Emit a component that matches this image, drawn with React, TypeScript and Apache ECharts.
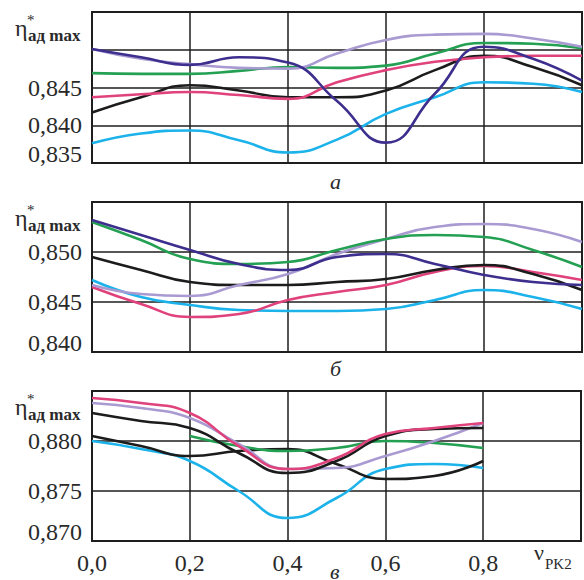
import React, { useEffect, useRef } from "react";
import * as echarts from "echarts";

// Relative speed of the second rotor row, ν_PK2
const xs = [0, 0.1, 0.2, 0.3, 0.4, 0.5, 0.6, 0.7, 0.8, 0.9, 1.0];

// Panel а
const navyA = [0.8501, 0.849, 0.848, 0.849, 0.8483, 0.8432, 0.8377, 0.8442, 0.8504, 0.8488, 0.8459];
const lavA = [0.8501, 0.8488, 0.8481, 0.8476, 0.8475, 0.8495, 0.8513, 0.852, 0.8521, 0.8515, 0.8504];
const greenA = [0.8469, 0.8468, 0.8468, 0.8472, 0.8477, 0.8476, 0.8479, 0.8495, 0.8509, 0.8508, 0.8502];
const pinkA = [0.8437, 0.8441, 0.8444, 0.844, 0.8435, 0.8457, 0.8473, 0.8484, 0.849, 0.8492, 0.8492];
const blackA = [0.8417, 0.8437, 0.8453, 0.8446, 0.8437, 0.8437, 0.8446, 0.8473, 0.8492, 0.8477, 0.8453];
const cyanA = [0.8376, 0.8389, 0.8393, 0.838, 0.8364, 0.8381, 0.8415, 0.8437, 0.8457, 0.8455, 0.8444];

// Panel б
const navyB = [0.8532, 0.8517, 0.8502, 0.8488, 0.8482, 0.8495, 0.8498, 0.8488, 0.8477, 0.847, 0.8467];
const greenB = [0.853, 0.8512, 0.8493, 0.8488, 0.849, 0.8502, 0.8513, 0.8517, 0.8515, 0.8502, 0.8485];
const blackB = [0.8495, 0.8482, 0.847, 0.8467, 0.8467, 0.847, 0.8473, 0.8482, 0.8487, 0.8478, 0.8462];
const lavB = [0.8467, 0.8458, 0.8456, 0.8467, 0.8478, 0.8498, 0.8513, 0.8525, 0.8528, 0.8523, 0.851];
const pinkB = [0.8465, 0.8448, 0.8435, 0.8438, 0.8452, 0.846, 0.8467, 0.848, 0.8486, 0.848, 0.8472];
const cyanB = [0.8472, 0.8455, 0.8447, 0.8442, 0.8441, 0.8441, 0.8443, 0.8452, 0.8462, 0.8455, 0.8443];

// Panel в (0 … 0,8)
const pinkC = [0.8843, 0.8838, 0.8828, 0.8795, 0.8772, 0.8783, 0.8807, 0.8813, 0.8818];
const lavC = [0.8838, 0.8833, 0.8823, 0.8797, 0.8772, 0.8773, 0.8785, 0.88, 0.8818];
const blackC1 = [0.8828, 0.882, 0.8813, 0.8788, 0.8768, 0.878, 0.8805, 0.8812, 0.8813];
const blackC2 = [0.8805, 0.8795, 0.8785, 0.879, 0.8792, 0.8777, 0.8762, 0.8765, 0.878];
const greenC = [null, null, 0.8805, 0.8795, 0.879, 0.8793, 0.88, 0.8798, 0.8793];
const cyanC = [0.88, 0.8792, 0.878, 0.875, 0.8723, 0.8743, 0.8772, 0.8777, 0.8773];

// Tick labels
const yTicksA = ["0,835", "0,840", "0,845"];
const yTicksB = ["0,840", "0,845", "0,850"];
const yTicksC = ["0,870", "0,875", "0,880"];
const xTicks = ["0,0", "0,2", "0,4", "0,6", "0,8"];
const panelLetters = ["а", "б", "в"];

const COLORS = {
  navy: "#3d2f8e",
  lav: "#a99ad2",
  green: "#23a052",
  pink: "#e0427c",
  black: "#1c1c1c",
  cyan: "#1cb2ea",
};

const SERIF = "'Liberation Serif', 'DejaVu Serif', serif";
const PANEL_TOPS = [12, 202, 391];
const PANEL_HEIGHTS = [151, 150, 150];

const fmt = (v: number) => v.toFixed(3).replace(".", ",");

function App() {
  const ref = useRef<HTMLDivElement>(null);

  useEffect(() => {
    if (!ref.current) return;
    const chart = echarts.init(ref.current, undefined, { renderer: "svg" });

    const pair = (ys: (number | null)[]) => ys.map((y, i) => [xs[i], y]);

    const panels = [
      { min: 0.835, max: 0.855, ticks: yTicksA, lines: [
        [cyanA, COLORS.cyan], [blackA, COLORS.black], [pinkA, COLORS.pink],
        [greenA, COLORS.green], [lavA, COLORS.lav], [navyA, COLORS.navy]] },
      { min: 0.84, max: 0.855, ticks: yTicksB, lines: [
        [cyanB, COLORS.cyan], [pinkB, COLORS.pink], [blackB, COLORS.black],
        [lavB, COLORS.lav], [greenB, COLORS.green], [navyB, COLORS.navy]] },
      { min: 0.87, max: 0.885, ticks: yTicksC, lines: [
        [cyanC, COLORS.cyan], [blackC2, COLORS.black], [greenC, COLORS.green],
        [lavC, COLORS.lav], [blackC1, COLORS.black], [pinkC, COLORS.pink]] },
    ];

    const grid = panels.map((_, i) => ({
      left: 92,
      right: 2,
      top: PANEL_TOPS[i],
      height: PANEL_HEIGHTS[i],
      show: true,
      borderColor: "#222",
      borderWidth: 2,
      backgroundColor: "#fff",
    }));

    const xAxis = panels.map((_, i) => ({
      type: "value",
      gridIndex: i,
      min: 0,
      max: 1,
      interval: 0.2,
      axisLine: { show: false },
      axisTick: { show: false },
      splitLine: { show: true, lineStyle: { color: "#1e1e1e", width: 1.5 } },
      axisLabel: {
        show: i === 2,
        margin: 10,
        fontFamily: SERIF,
        fontSize: 24,
        color: "#2a2a2a",
        formatter: (v: number) => {
          const s = v.toFixed(1).replace(".", ",");
          return xTicks.includes(s) ? s : "";
        },
      },
    }));

    const yAxis = panels.map((p, i) => ({
      type: "value",
      gridIndex: i,
      min: p.min,
      max: p.max,
      interval: 0.005,
      axisLine: { show: false },
      axisTick: { show: false },
      splitLine: { show: true, lineStyle: { color: "#1e1e1e", width: 1.5 } },
      axisLabel: {
        margin: 10,
        fontFamily: SERIF,
        fontSize: 24,
        lineHeight: 18,
        color: "#2a2a2a",
        verticalAlignMinLabel: "bottom",
        formatter: (v: number) => {
          const s = fmt(v);
          return p.ticks.includes(s) ? s : "";
        },
      },
    }));

    const series: any[] = [];
    panels.forEach((p, i) => {
      p.lines.forEach(([ys, color]) => {
        series.push({
          type: "line",
          xAxisIndex: i,
          yAxisIndex: i,
          data: pair(ys as (number | null)[]),
          smooth: 0.5,
          showSymbol: false,
          connectNulls: false,
          lineStyle: { color: color as string, width: 2.6 },
          itemStyle: { color: color as string },
        });
      });
    });

    // η*ад max captions in the upper left corner of each panel
    const graphic: any[] = [];
    PANEL_TOPS.forEach((t) => {
      graphic.push(
        { type: "text", left: 15, top: t + 4, style: { text: "η", font: `24px ${SERIF}`, lineHeight: 22, fill: "#2a2a2a" } },
        { type: "text", left: 27, top: t, style: { text: "*", font: `15px ${SERIF}`, lineHeight: 12, fill: "#2a2a2a" } },
        { type: "text", left: 28, top: t + 15, style: { text: "ад max", font: `bold 17px ${SERIF}`, lineHeight: 17, fill: "#2a2a2a" } }
      );
    });
    const letterY = [170, 357, 560];
    panelLetters.forEach((l, i) => {
      graphic.push({
        type: "text",
        left: 330,
        top: letterY[i],
        style: { text: l, font: `italic 22px ${SERIF}`, lineHeight: 17, fill: "#2a2a2a" },
      });
    });
    graphic.push(
      { type: "text", left: 534, top: 541, style: { text: "ν", font: `22px ${SERIF}`, lineHeight: 20, fill: "#2a2a2a" } },
      { type: "text", left: 545, top: 556, style: { text: "PK2", font: `15px ${SERIF}`, lineHeight: 15, fill: "#2a2a2a" } }
    );

    chart.setOption({
      animation: false,
      backgroundColor: "#fff",
      grid,
      xAxis,
      yAxis,
      series,
      graphic,
    });

    return () => chart.dispose();
  }, []);

  return <div ref={ref} style={{ width: 584, height: 580, position: "absolute", left: 0, top: 0 }} />;
}

export default App;
